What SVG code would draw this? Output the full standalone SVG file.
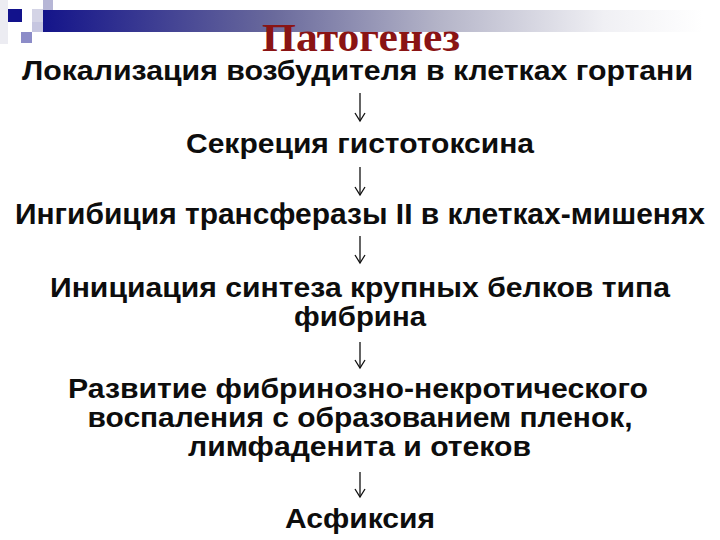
<svg xmlns="http://www.w3.org/2000/svg" width="720" height="540" viewBox="0 0 720 540">
  <style>
    .t { font-family: "Liberation Sans", Arial, sans-serif; font-weight: bold; fill: #0d0d0d; text-anchor: middle; }
    .title { font-family: "Liberation Serif", "Times New Roman", serif; font-weight: bold; fill: #8a1414; font-size: 40px; text-anchor: middle; }
    .conn { stroke: #111; stroke-width: 1.3; fill: none; marker-end: url(#ah); }
  </style>
  <defs>
    <linearGradient id="bar" x1="0" y1="0" x2="1" y2="0">
      <stop offset="0" stop-color="#14148a"/>
      <stop offset="0.35" stop-color="#6a6a9c"/>
      <stop offset="0.6" stop-color="#b4b4c8"/>
      <stop offset="0.85" stop-color="#f0f0f4"/>
      <stop offset="1" stop-color="#ffffff"/>
    </linearGradient>
    <marker id="ah" viewBox="0 0 12 12" refX="10" refY="6" markerWidth="12" markerHeight="12" markerUnits="userSpaceOnUse" orient="auto">
      <path d="M2,1 L10,6 L2,11" fill="none" stroke="#111" stroke-width="1.3"/>
    </marker>
  </defs>
  <rect width="720" height="540" fill="#ffffff"/>
  <g id="decor">
    <rect x="0" y="0" width="8" height="44" fill="#ececf2"/>
    <rect x="8" y="9" width="14" height="13" fill="#12128c"/>
    <rect x="32" y="9" width="11" height="13" fill="#d4d4e6"/>
    <rect x="43" y="0" width="10" height="10" fill="#b6b6d6"/>
    <rect x="32" y="22" width="11" height="10" fill="#c6c6e0"/>
    <rect x="21" y="32" width="11" height="11" fill="#8c8cc8"/>
    <rect x="43" y="10" width="660" height="22" fill="url(#bar)"/>
  </g>
  <g id="title">
    <text class="title" x="361" y="51" textLength="198" lengthAdjust="spacingAndGlyphs">Патогенез</text>
  </g>
  <g id="n1">
    <text class="t" x="357.5" y="80" font-size="27" textLength="671" lengthAdjust="spacingAndGlyphs">Локализация возбудителя в клетках гортани</text>
  </g>
  <g id="n2">
    <text class="t" x="360" y="153" font-size="27" textLength="348" lengthAdjust="spacingAndGlyphs">Секреция гистотоксина</text>
  </g>
  <g id="n3">
    <text class="t" x="360" y="224" font-size="29" textLength="690" lengthAdjust="spacingAndGlyphs">Ингибиция трансферазы II в клетках-мишенях</text>
  </g>
  <g id="n4">
    <text class="t" x="360" y="297" font-size="28" textLength="620" lengthAdjust="spacingAndGlyphs">Инициация синтеза крупных белков типа</text>
    <text class="t" x="360" y="326" font-size="28" textLength="132" lengthAdjust="spacingAndGlyphs">фибрина</text>
  </g>
  <g id="n5">
    <text class="t" x="358" y="398" font-size="27" textLength="580" lengthAdjust="spacingAndGlyphs">Развитие фибринозно-некротического</text>
    <text class="t" x="360" y="427" font-size="27" textLength="545" lengthAdjust="spacingAndGlyphs">воспаления с образованием пленок,</text>
    <text class="t" x="359.5" y="456" font-size="27" textLength="343" lengthAdjust="spacingAndGlyphs">лимфаденита и отеков</text>
  </g>
  <g id="n6">
    <text class="t" x="360" y="528" font-size="27" textLength="150" lengthAdjust="spacingAndGlyphs">Асфиксия</text>
  </g>
  <g id="connectors">
    <line class="conn" x1="360" y1="93" x2="360" y2="121"/>
    <line class="conn" x1="360" y1="167" x2="360" y2="195"/>
    <line class="conn" x1="360" y1="236" x2="360" y2="263"/>
    <line class="conn" x1="360" y1="342" x2="360" y2="368"/>
    <line class="conn" x1="360" y1="472" x2="360" y2="497"/>
  </g>
</svg>
